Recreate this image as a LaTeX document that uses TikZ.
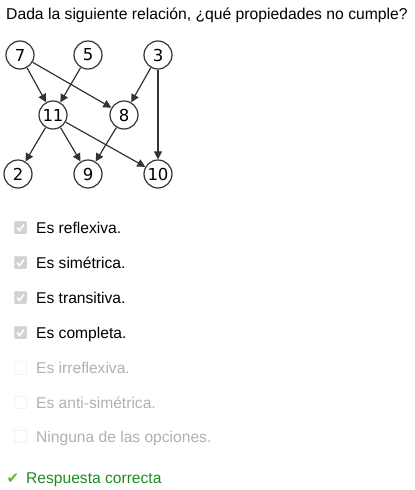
\documentclass[tikz,border=0pt]{standalone}
\usepackage{fontspec}
\setmainfont{Liberation Sans}
\newfontfamily\graphfont{DejaVu Sans}
\usetikzlibrary{arrows.meta,positioning,calc}
\definecolor{edgegray}{HTML}{333333}
\definecolor{boxgray}{HTML}{D2D2D2}
\definecolor{boxline}{HTML}{E4E4E4}
\definecolor{textgray}{HTML}{B0B0B0}
\definecolor{okgreen}{HTML}{1F8A1F}
\definecolor{tickgreen}{HTML}{5CB82E}

\begin{document}
\begin{tikzpicture}[
    x=1pt, y=-1pt,
    vertex/.style={circle, draw=edgegray, line width=1.2pt, minimum size=28pt, inner sep=0pt, font=\graphfont\fontsize{16.5}{16.5}\selectfont},
    arrow/.style={-{Triangle[length=8pt, width=8pt]}, line width=1.2pt, edgegray},
    label/.style={anchor=base west, inner sep=0pt, font=\fontsize{15.6}{18}\selectfont},
    tickbox/.style={draw=boxgray, fill=boxgray, rounded corners=2pt, minimum size=12.5pt, inner sep=0pt},
    emptybox/.style={draw=boxline, fill=white, rounded corners=2pt, minimum size=12.5pt, inner sep=0pt}
]
\useasboundingbox (0,0) rectangle (415,490);

\node[label, font=\fontsize{15.7}{18}\selectfont] (question) at (6,19.5) {Dada la siguiente relación, ¿qué propiedades no cumple?};

% the relation
\node[vertex] (n7) at (20,55) {7};
\node[vertex] (n5) at (88,55) {5};
\node[vertex] (n3) at (158,55) {3};
\node[vertex] (n11) at (53,115) {11};
\node[vertex] (n8) at (124,115) {8};
\node[vertex] (n2) at (18,174) {2};
\node[vertex] (n9) at (88,174) {9};
\node[vertex] (n10) at (158,174) {10};

\draw[arrow] (n7) -- (n11);
\draw[arrow] (n7) -- (n8);
\draw[arrow] (n5) -- (n11);
\draw[arrow] (n3) -- (n8);
\draw[arrow] (n3) -- (n10);
\draw[arrow] (n11) -- (n2);
\draw[arrow] (n11) -- (n9);
\draw[arrow] (n11) -- (n10);
\draw[arrow] (n8) -- (n9);

% answer options
\foreach \name/\txt/\y in {refl/Es reflexiva./233, sim/Es simétrica./268, trans/Es transitiva./303, comp/Es completa./338}{
    \node[tickbox] (box-\name) at (20.5,\y-5.5) {};
    \draw[white, line width=1.6pt] ($(box-\name.center)+(-3.5,0)$) -- ++(2.5,3) -- ++(4.5,-6);
    \node[label] (opt-\name) at (36,\y) {\txt};
}
\foreach \name/\txt/\y in {irrefl/Es irreflexiva./373.7, anti/Es anti-simétrica./408, none/Ninguna de las opciones./442}{
    \node[emptybox] (box-\name) at (20.5,\y-5.5) {};
    \node[label, textgray] (opt-\name) at (36,\y) {\txt};
}

\node[anchor=base west, inner sep=0pt, tickgreen, font=\graphfont\fontsize{15}{15}\selectfont] (tick) at (6.5,483) {✔};
\node[label] (verdict) at (26,483.5) {\color{okgreen}Respuesta correcta};
\end{tikzpicture}
\end{document}
